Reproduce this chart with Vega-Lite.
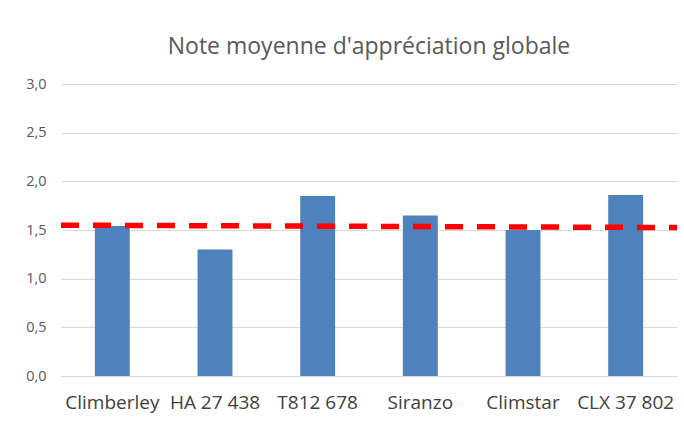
{
  "$schema": "https://vega.github.io/schema/vega-lite/v6.json",
  "width": 616,
  "height": 292,
  "autosize": {"type": "none"},
  "padding": {"left": 61, "top": 84, "right": 7, "bottom": 47},
  "background": "white",
  "title": {
    "text": "Note moyenne d'appréciation globale",
    "fontSize": 23,
    "font": "Open Sans",
    "fontWeight": "normal",
    "color": "#595959",
    "anchor": "middle",
    "offset": 17
  },
  "config": {
    "view": {"stroke": null},
    "axis": {"labelFont": "Open Sans", "labelColor": "#595959", "gridColor": "#d9d9d9", "domain": false, "ticks": false}
  },
  "layer": [
    {
      "data": {
        "values": [
          {"variete": "Climberley", "note": 1.54},
          {"variete": "HA 27 438", "note": 1.30},
          {"variete": "T812 678", "note": 1.85},
          {"variete": "Siranzo", "note": 1.65},
          {"variete": "Climstar", "note": 1.50},
          {"variete": "CLX 37 802", "note": 1.86}
        ]
      },
      "mark": {"type": "bar", "color": "#4F81BD"},
      "encoding": {
        "x": {
          "field": "variete", "type": "nominal", "sort": null,
          "scale": {"paddingInner": 0.66, "paddingOuter": 0.33},
          "axis": {"title": null, "labelAngle": 0, "labelFontSize": 19, "labelColor": "#404040", "labelPadding": 17, "domain": true, "domainColor": "#d9d9d9", "labelOverlap": false}
        },
        "y": {
          "field": "note", "type": "quantitative",
          "scale": {"domain": [0, 3], "nice": false},
          "axis": {"title": null, "values": [0, 0.5, 1, 1.5, 2, 2.5, 3], "labelExpr": "replace(format(datum.value, '.1f'), '.', ',')", "labelFontSize": 14.5, "labelPadding": 15}
        }
      }
    },
    {
      "data": {
        "values": [
          {"pos": 0, "moyenne": 1.55},
          {"pos": 1, "moyenne": 1.525}
        ]
      },
      "mark": {"type": "line", "color": "#FF0000", "strokeWidth": 5.5, "strokeDash": [18, 14], "strokeCap": "butt"},
      "encoding": {
        "x": {"field": "pos", "type": "quantitative", "scale": {"domain": [0, 1], "nice": false, "zero": false}, "axis": null},
        "y": {"field": "moyenne", "type": "quantitative"}
      }
    }
  ],
  "resolve": {"scale": {"x": "independent"}}
}
